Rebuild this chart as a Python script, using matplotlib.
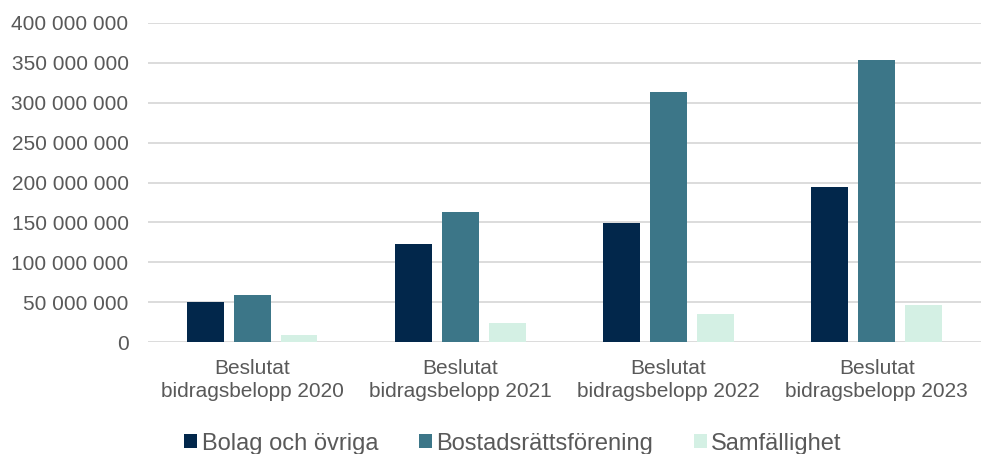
import matplotlib
matplotlib.use("Agg")
import matplotlib.pyplot as plt
from matplotlib.patches import Patch
from matplotlib.ticker import FuncFormatter, MultipleLocator
import numpy as np

plt.rcParams['font.family'] = ['Liberation Sans', 'DejaVu Sans']

categories = ["Beslutat\nbidragsbelopp 2020", "Beslutat\nbidragsbelopp 2021",
              "Beslutat\nbidragsbelopp 2022", "Beslutat\nbidragsbelopp 2023"]
series_names = ["Bolag och övriga", "Bostadsrättsförening", "Samfällighet"]
bolag = [50_500_000, 122_600_000, 149_000_000, 195_000_000]
bostad = [58_800_000, 163_500_000, 313_000_000, 353_000_000]
samf = [9_100_000, 23_800_000, 35_000_000, 46_700_000]
colors = ["#02274B", "#3C7688", "#D4F0E4"]

fig = plt.figure(figsize=(9.82, 4.54), dpi=100)
ax = fig.add_axes([0.1507, 0.246, 0.848, 0.704])

x = np.arange(len(categories))
width = 0.177
step = 0.2254
for i, (vals, c) in enumerate(zip([bolag, bostad, samf], colors)):
    ax.bar(x + (i - 1) * step, vals, width=width, color=c, zorder=3)

ax.set_xlim(-0.5, len(categories) - 0.5)
ax.set_ylim(0, 400_000_000)
ax.yaxis.set_major_locator(MultipleLocator(50_000_000))
ax.yaxis.set_major_formatter(FuncFormatter(lambda v, p: f"{int(v):,}".replace(",", " ")))
ax.set_xticks(x)
ax.set_xticklabels(categories, linespacing=1.3)
ax.grid(axis='y', color='#D6D6D6', linewidth=1.2, zorder=0)
ax.set_axisbelow(True)
for s in ax.spines.values():
    s.set_visible(False)
ax.tick_params(axis='y', length=0, pad=14, labelsize=15, labelcolor='#595959')
ax.tick_params(axis='x', length=0, pad=12, labelsize=15, labelcolor='#595959')

handles = [Patch(facecolor=c, edgecolor='none') for c in colors]
fig.legend(handles, series_names, loc='center', bbox_to_anchor=(0.5225, 0.023), ncol=3,
           frameon=False, fontsize=17, labelcolor='#595959',
           handlelength=0.55, handleheight=0.55, handletextpad=0.2, columnspacing=1.7,
           borderaxespad=0, borderpad=0)

fig.savefig("out.png", dpi=100, facecolor='white')
